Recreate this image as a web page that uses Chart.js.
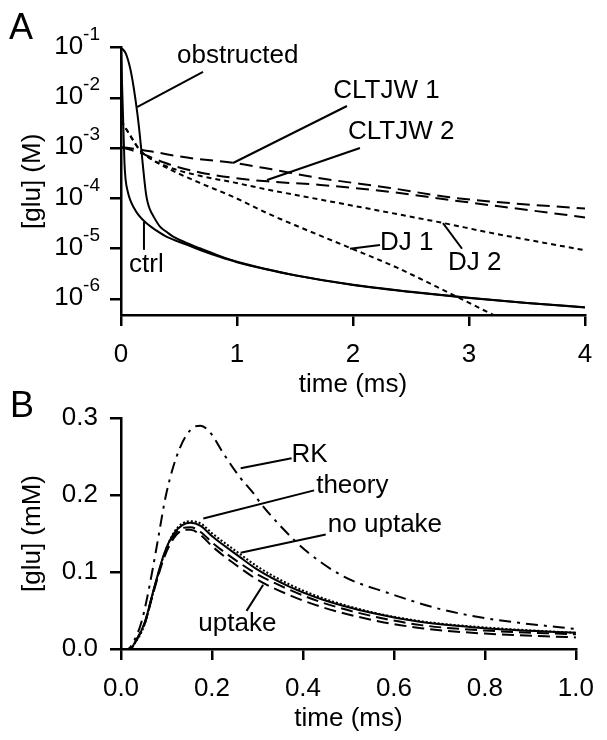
<!DOCTYPE html>
<html>
<head>
<meta charset="utf-8">
<script src="https://cdn.jsdelivr.net/npm/chart.js@4.4.1/dist/chart.umd.min.js"></script>
<style>
  html, body { margin: 0; padding: 0; background: #fff; }
  #wrap { position: relative; width: 607px; height: 740px; }
  canvas { position: absolute; left: 0; }
  #chart-a { top: 0; }
  #chart-b { top: 370px; }
</style>
</head>
<body>
<div id="wrap">
  <canvas id="chart-a" width="607" height="400"></canvas>
  <canvas id="chart-b" width="607" height="370"></canvas>
</div>
<script>
// ---- panel A: [glu] (M), log axis, time 0-4 ms ----
const tCtrl = [0, 0.01, 0.02, 0.03, 0.04, 0.06, 0.08, 0.11, 0.15, 0.22, 0.3, 0.4, 0.57, 0.7, 0.85, 1.0, 1.25, 1.5, 2.0, 2.5, 3.0, 3.5, 4.0];
const ctrl = [0.1, 1.58e-2, 2.8e-3, 5.0e-4, 2.34e-4, 1.32e-4, 9.3e-5, 6.6e-5, 4.7e-5, 3.2e-5, 2.34e-5, 1.7e-5, 1.2e-5, 9.1e-6, 6.9e-6, 5.4e-6, 3.9e-6, 2.95e-6, 1.9e-6, 1.38e-6, 1.05e-6, 8.3e-7, 6.8e-7];

const tObstructed = [0, 0.04, 0.08, 0.11, 0.14, 0.16, 0.18, 0.2, 0.215, 0.23, 0.25, 0.28, 0.336, 0.4, 0.45, 0.55, 0.68, 0.85, 1.0, 1.25, 1.5, 2.0, 2.5, 3.0, 3.5, 4.0];
const obstructed = [0.1, 7.8e-2, 3.8e-2, 1.58e-2, 5.1e-3, 2.04e-3, 7.2e-4, 2.5e-4, 1.26e-4, 8.3e-5, 6.0e-5, 4.4e-5, 2.75e-5, 2.1e-5, 1.74e-5, 1.35e-5, 1.02e-5, 7.2e-6, 5.5e-6, 3.95e-6, 2.97e-6, 1.91e-6, 1.39e-6, 1.06e-6, 8.35e-7, 6.85e-7];

const tCltjw1 = [0, 0.15, 0.3, 0.57, 0.97, 1.3, 1.7, 2.32, 2.84, 3.41, 4.0];
const cltjw1 = [1.05e-3, 9.5e-4, 8.3e-4, 6.5e-4, 5.1e-4, 3.8e-4, 2.57e-4, 1.62e-4, 1.05e-4, 7.9e-5, 6.3e-5];

const tCltjw2 = [0, 0.15, 0.3, 0.45, 0.68, 0.97, 1.26, 1.72, 2.32, 2.84, 3.41, 4.0];
const cltjw2 = [1.05e-3, 8.3e-4, 6.0e-4, 4.5e-4, 3.3e-4, 2.57e-4, 2.19e-4, 1.86e-4, 1.35e-4, 9.3e-5, 6.3e-5, 4.2e-5];

const tDj1 = [0, 0.08, 0.16, 0.25, 0.4, 0.68, 0.97, 1.26, 1.54, 1.97, 2.38, 2.6, 2.89, 3.18, 3.3];
const dj1 = [3.55e-3, 1.78e-3, 9.3e-4, 6.3e-4, 4.0e-4, 2.04e-4, 1.07e-4, 5.1e-5, 2.69e-5, 1.05e-5, 4.2e-6, 2.4e-6, 1.12e-6, 5.2e-7, 3.8e-7];

const tDj2 = [0, 0.08, 0.16, 0.25, 0.4, 0.68, 0.97, 1.26, 1.83, 2.32, 2.78, 3.18, 4.0];
const dj2 = [3.55e-3, 1.78e-3, 9.3e-4, 6.3e-4, 4.3e-4, 2.82e-4, 2.09e-4, 1.51e-4, 8.5e-5, 5.2e-5, 3.24e-5, 2.09e-5, 9.3e-6];

const xTicksA = [0, 1, 2, 3, 4];
const yTicksA = [1e-1, 1e-2, 1e-3, 1e-4, 1e-5, 1e-6];
const yExpA = ["-1", "-2", "-3", "-4", "-5", "-6"];

// ---- panel B: [glu] (mM), time 0-1 ms ----
const tB = [0, 0.02, 0.03, 0.052, 0.073, 0.095, 0.116, 0.135, 0.153, 0.175, 0.203, 0.26, 0.30, 0.37, 0.444, 0.55, 0.66, 0.8, 1.0];
const noUptake = [0, 0, 0.008, 0.034, 0.08, 0.124, 0.15, 0.161, 0.164, 0.16, 0.145, 0.12, 0.103, 0.081, 0.064, 0.047, 0.035, 0.027, 0.021];
const theory = [0, 0, 0.007, 0.032, 0.078, 0.123, 0.151, 0.163, 0.166, 0.163, 0.149, 0.124, 0.107, 0.084, 0.066, 0.048, 0.036, 0.028, 0.021];
const uptake1 = [0, 0, 0.008, 0.034, 0.079, 0.122, 0.147, 0.157, 0.158, 0.152, 0.137, 0.112, 0.097, 0.077, 0.06, 0.043, 0.031, 0.024, 0.019];
const uptake2 = [0, 0, 0.008, 0.033, 0.077, 0.119, 0.144, 0.154, 0.155, 0.148, 0.132, 0.106, 0.09, 0.07, 0.054, 0.038, 0.027, 0.02, 0.015];

const tRk = [0, 0.015, 0.03, 0.045, 0.058, 0.07, 0.08, 0.1, 0.13, 0.16, 0.175, 0.196, 0.224, 0.26, 0.29, 0.306, 0.35, 0.41, 0.49, 0.586, 0.694, 0.8, 0.875, 1.0];
const rk = [0, 0, 0.012, 0.035, 0.068, 0.105, 0.138, 0.203, 0.262, 0.288, 0.29, 0.281, 0.255, 0.224, 0.203, 0.19, 0.16, 0.126, 0.094, 0.073, 0.053, 0.04, 0.034, 0.026];

const xTicksB = [0, 0.2, 0.4, 0.6, 0.8, 1.0];
const xTickLabelsB = ["0.0", "0.2", "0.4", "0.6", "0.8", "1.0"];
const yTicksB = [0, 0.1, 0.2, 0.3];
const yTickLabelsB = ["0.0", "0.1", "0.2", "0.3"];

// callout labels, in data units: text anchor + leader line
const calloutsA = [
    { text: "obstructed", at: [0.483, 0.0684], from: [0.138, 6.6e-3], to: [0.707, 0.0331] },
    { text: "CLTJW 1", at: [1.83, 0.01374], from: [0.966, 5.08e-4], to: [1.948, 6.92e-3] },
    { text: "CLTJW 2", at: [1.957, 2.1e-3], from: [1.259, 2.33e-4], to: [2.06, 1.01e-3] },
    { text: "DJ 1", at: [2.233, 1.31e-5], from: [1.974, 1.0e-5], to: [2.233, 1.19e-5] },
    { text: "DJ 2", at: [2.819, 5.25e-6], from: [2.776, 3.24e-5], to: [2.94, 1.0e-5] },
    { text: "ctrl", at: [0.069, 4.8e-6], from: [0.198, 3.4e-5], to: [0.198, 9.5e-6] },
];
const calloutsB = [
    { text: "RK", at: [0.375, 0.2516], from: [0.263, 0.2347], to: [0.375, 0.2477] },
    { text: "theory", at: [0.429, 0.2125], from: [0.181, 0.1695], to: [0.4246, 0.206] },
    { text: "no uptake", at: [0.4547, 0.1617], from: [0.263, 0.125], to: [0.45, 0.1486] },
    { text: "uptake", at: [0.17, 0.0326], from: [0.276, 0.0495], to: [0.3125, 0.0834] },
];

const FONT = "'Liberation Sans', Arial, sans-serif";
Chart.defaults.font.family = FONT;
Chart.defaults.color = "#000";

function points(ts, vs) {
    return ts.map((t, i) => ({ x: t, y: vs[i] }));
}

function line(ts, vs, dash) {
    return {
        data: points(ts, vs),
        borderColor: "#000",
        borderWidth: 2,
        borderDash: dash,
        pointRadius: 0,
        fill: false,
        cubicInterpolationMode: "monotone",
    };
}

function axisStyle() {
    return {
        grid: { display: true, drawOnChartArea: false, drawTicks: true, tickLength: 11, color: "#000", lineWidth: 2.5 },
        border: { display: true, color: "#000", width: 2.5 },
    };
}

function calloutPlugin(list) {
    return {
        id: "callouts",
        afterDraw(chart) {
            const { ctx } = chart;
            const x = chart.scales.x;
            const y = chart.scales.y;
            ctx.save();
            ctx.strokeStyle = "#000";
            ctx.fillStyle = "#000";
            ctx.lineWidth = 2;
            ctx.font = "26px " + FONT;
            ctx.textBaseline = "middle";
            ctx.textAlign = "left";
            list.forEach((c) => {
                ctx.beginPath();
                ctx.moveTo(x.getPixelForValue(c.from[0]), y.getPixelForValue(c.from[1]));
                ctx.lineTo(x.getPixelForValue(c.to[0]), y.getPixelForValue(c.to[1]));
                ctx.stroke();
                ctx.fillText(c.text, x.getPixelForValue(c.at[0]), y.getPixelForValue(c.at[1]));
            });
            ctx.restore();
        },
    };
}

function letterPlugin(letter, left, baseline) {
    return {
        id: "letter",
        afterDraw(chart) {
            const ctx = chart.ctx;
            ctx.save();
            ctx.fillStyle = "#000";
            ctx.font = "36px " + FONT;
            ctx.textBaseline = "alphabetic";
            ctx.textAlign = "left";
            ctx.fillText(letter, left, baseline);
            ctx.restore();
        },
    };
}

// 10 with superscript exponent for the log axis
const powerLabels = {
    id: "powerLabels",
    afterDraw(chart) {
        const ctx = chart.ctx;
        const y = chart.scales.y;
        const right = y.right - 21;
        ctx.save();
        ctx.fillStyle = "#000";
        ctx.textBaseline = "middle";
        ctx.textAlign = "right";
        yTicksA.forEach((v, i) => {
            const py = y.getPixelForValue(v);
            ctx.font = "19px " + FONT;
            const w = ctx.measureText(yExpA[i]).width;
            ctx.fillText(yExpA[i], right, py - 13);
            ctx.font = "26px " + FONT;
            ctx.fillText("10", right - w, py - 1);
        });
        ctx.restore();
    },
};

new Chart(document.querySelector("#chart-a").getContext("2d"), {
    type: "line",
    data: {
        datasets: [
            line(tCtrl, ctrl, []),
            line(tObstructed, obstructed, []),
            line(tCltjw1, cltjw1, [13, 7]),
            line(tCltjw2, cltjw2, [13, 7]),
            line(tDj1, dj1, [5, 4]),
            line(tDj2, dj2, [5, 4]),
        ],
    },
    options: {
        responsive: false,
        animation: false,
        layout: { padding: { top: 47.7, right: 22, bottom: 0, left: 0 } },
        plugins: { legend: { display: false }, tooltip: { enabled: false } },
        scales: {
            x: {
                type: "linear",
                min: 0,
                max: 4,
                ...axisStyle(),
                afterBuildTicks: (s) => { s.ticks = xTicksA.map((v) => ({ value: v })); },
                afterFit: (s) => { s.height = 85; },
                ticks: { font: { size: 26 }, padding: 13, maxRotation: 0, autoSkip: false, callback: (v) => String(v) },
                title: { display: true, text: "time (ms)", font: { size: 26 }, padding: { top: 0, bottom: 0 } },
            },
            y: {
                type: "logarithmic",
                min: 4.8e-7,
                max: 0.1,
                ...axisStyle(),
                afterBuildTicks: (s) => { s.ticks = yTicksA.map((v) => ({ value: v })); },
                afterFit: (s) => { s.width = 121; },
                ticks: { font: { size: 26 }, color: "rgba(0,0,0,0)", autoSkip: false, callback: () => "" },
                title: { display: true, text: "[glu] (M)", font: { size: 26 }, padding: { top: 17, bottom: 0 } },
            },
        },
    },
    plugins: [powerLabels, calloutPlugin(calloutsA), letterPlugin("A", 9, 39)],
});

new Chart(document.querySelector("#chart-b").getContext("2d"), {
    type: "line",
    data: {
        datasets: [
            line(tRk, rk, [12, 6, 3, 6]),
            line(tB, theory, [2, 2]),
            line(tB, noUptake, []),
            line(tB, uptake1, [12, 6]),
            line(tB, uptake2, [12, 6]),
        ],
    },
    options: {
        responsive: false,
        animation: false,
        layout: { padding: { top: 48, right: 22, bottom: 0, left: 0 } },
        plugins: { legend: { display: false }, tooltip: { enabled: false } },
        scales: {
            x: {
                type: "linear",
                min: 0,
                max: 1,
                ...axisStyle(),
                afterBuildTicks: (s) => { s.ticks = xTicksB.map((v) => ({ value: v })); },
                afterFit: (s) => { s.height = 91; },
                ticks: { font: { size: 26 }, padding: 13, maxRotation: 0, autoSkip: false, callback: (v, i) => xTickLabelsB[i] },
                title: { display: true, text: "time (ms)", font: { size: 26 }, padding: { top: 0, bottom: 6 } },
            },
            y: {
                type: "linear",
                min: 0,
                max: 0.3,
                ...axisStyle(),
                afterBuildTicks: (s) => { s.ticks = yTicksB.map((v) => ({ value: v })); },
                afterFit: (s) => { s.width = 121; },
                ticks: { font: { size: 26 }, padding: 12, autoSkip: false, callback: (v, i) => yTickLabelsB[i] },
                title: { display: true, text: "[glu] (mM)", font: { size: 26 }, padding: { top: 17, bottom: 0 } },
            },
        },
    },
    plugins: [calloutPlugin(calloutsB), letterPlugin("B", 10, 47)],
});
</script>
</body>
</html>
